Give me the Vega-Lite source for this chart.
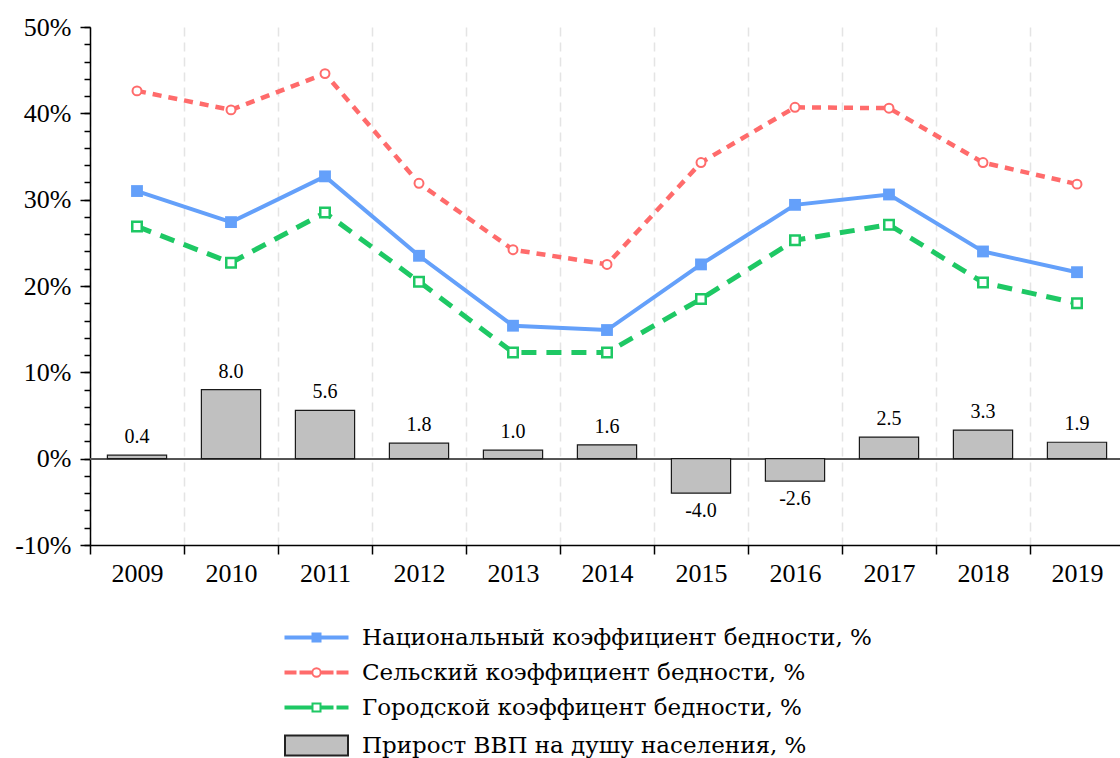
{
  "$schema": "https://vega.github.io/schema/vega-lite/v6.json",
  "autosize": "none",
  "width": 1030,
  "height": 518,
  "padding": {"left": 90, "top": 27, "right": 0, "bottom": 213},
  "config": {
    "view": {"stroke": null},
    "font": "Liberation Serif",
    "axis": {"labelFont": "Liberation Serif"},
    "locale": {"number": {"decimal": ".", "thousands": ",", "grouping": [3], "currency": ["$", ""], "minus": "-"}}
  },
  "datasets": {
    "main": [
      {"year": "2009", "series": "Национальный коэффициент бедности, %", "value": 31.0},
      {"year": "2010", "series": "Национальный коэффициент бедности, %", "value": 27.4},
      {"year": "2011", "series": "Национальный коэффициент бедности, %", "value": 32.7},
      {"year": "2012", "series": "Национальный коэффициент бедности, %", "value": 23.5},
      {"year": "2013", "series": "Национальный коэффициент бедности, %", "value": 15.4},
      {"year": "2014", "series": "Национальный коэффициент бедности, %", "value": 14.9},
      {"year": "2015", "series": "Национальный коэффициент бедности, %", "value": 22.5},
      {"year": "2016", "series": "Национальный коэффициент бедности, %", "value": 29.4},
      {"year": "2017", "series": "Национальный коэффициент бедности, %", "value": 30.6},
      {"year": "2018", "series": "Национальный коэффициент бедности, %", "value": 24.0},
      {"year": "2019", "series": "Национальный коэффициент бедности, %", "value": 21.6},
      {"year": "2009", "series": "Сельский коэффициент бедности, %", "value": 42.6},
      {"year": "2010", "series": "Сельский коэффициент бедности, %", "value": 40.4},
      {"year": "2011", "series": "Сельский коэффициент бедности, %", "value": 44.6},
      {"year": "2012", "series": "Сельский коэффициент бедности, %", "value": 31.9},
      {"year": "2013", "series": "Сельский коэффициент бедности, %", "value": 24.2},
      {"year": "2014", "series": "Сельский коэффициент бедности, %", "value": 22.5},
      {"year": "2015", "series": "Сельский коэффициент бедности, %", "value": 34.3},
      {"year": "2016", "series": "Сельский коэффициент бедности, %", "value": 40.7},
      {"year": "2017", "series": "Сельский коэффициент бедности, %", "value": 40.6},
      {"year": "2018", "series": "Сельский коэффициент бедности, %", "value": 34.3},
      {"year": "2019", "series": "Сельский коэффициент бедности, %", "value": 31.8},
      {"year": "2009", "series": "Городской коэффицент бедности, %", "value": 26.9},
      {"year": "2010", "series": "Городской коэффицент бедности, %", "value": 22.7},
      {"year": "2011", "series": "Городской коэффицент бедности, %", "value": 28.5},
      {"year": "2012", "series": "Городской коэффицент бедности, %", "value": 20.5},
      {"year": "2013", "series": "Городской коэффицент бедности, %", "value": 12.3},
      {"year": "2014", "series": "Городской коэффицент бедности, %", "value": 12.3},
      {"year": "2015", "series": "Городской коэффицент бедности, %", "value": 18.5},
      {"year": "2016", "series": "Городской коэффицент бедности, %", "value": 25.3},
      {"year": "2017", "series": "Городской коэффицент бедности, %", "value": 27.1},
      {"year": "2018", "series": "Городской коэффицент бедности, %", "value": 20.4},
      {"year": "2019", "series": "Городской коэффицент бедности, %", "value": 18.0},
      {"year": "2009", "series": "Прирост ВВП на душу населения, %", "value": 0.4},
      {"year": "2010", "series": "Прирост ВВП на душу населения, %", "value": 8.0},
      {"year": "2011", "series": "Прирост ВВП на душу населения, %", "value": 5.6},
      {"year": "2012", "series": "Прирост ВВП на душу населения, %", "value": 1.8},
      {"year": "2013", "series": "Прирост ВВП на душу населения, %", "value": 1.0},
      {"year": "2014", "series": "Прирост ВВП на душу населения, %", "value": 1.6},
      {"year": "2015", "series": "Прирост ВВП на душу населения, %", "value": -4.0},
      {"year": "2016", "series": "Прирост ВВП на душу населения, %", "value": -2.6},
      {"year": "2017", "series": "Прирост ВВП на душу населения, %", "value": 2.5},
      {"year": "2018", "series": "Прирост ВВП на душу населения, %", "value": 3.3},
      {"year": "2019", "series": "Прирост ВВП на душу населения, %", "value": 1.9}
    ]
  },
  "data": {"name": "main"},
  "resolve": {"axis": {"y": "independent"}},
  "encoding": {
    "x": {
      "field": "year", "type": "ordinal",
      "scale": {"type": "band", "paddingInner": 0, "paddingOuter": 0, "range": [0, 1034]},
      "axis": {
        "orient": "bottom", "title": null, "labelAngle": 0, "tickBand": "extent",
        "grid": true, "gridDash": [9, 6], "gridColor": "#e4e4e4", "gridWidth": 1.5,
        "domainColor": "#000000", "domainWidth": 1.5, "tickColor": "#000000", "tickWidth": 1.5, "tickSize": 9,
        "labelFont": "Liberation Serif", "labelFontSize": 26, "labelColor": "#000000", "labelPadding": 6
      }
    }
  },
  "layer": [
    {
      "mark": {"type": "rule", "color": "#555555", "strokeWidth": 1.5},
      "encoding": {
        "x": {"value": 0},
        "x2": {"value": 1034},
        "y": {
          "datum": 0, "type": "quantitative",
          "scale": {"domain": [-10, 50], "nice": false, "zero": false},
          "axis": {
            "orient": "left", "title": null, "labels": false, "domain": false, "grid": false,
            "values": [-10, -8, -6, -4, -2, 0, 2, 4, 6, 8, 10, 12, 14, 16, 18, 20, 22, 24, 26, 28, 30, 32, 34, 36, 38, 40, 42, 44, 46, 48, 50],
            "tickSize": 6, "tickColor": "#000000", "tickWidth": 1.5
          }
        }
      }
    },
    {
      "transform": [{"filter": "datum.series === 'Прирост ВВП на душу населения, %'"}],
      "mark": {"type": "bar", "fill": "#c0c0c0", "stroke": "#1a1a1a", "strokeWidth": 1.2, "width": {"band": 0.63}},
      "encoding": {
        "y": {
          "field": "value", "type": "quantitative",
          "scale": {"domain": [-10, 50], "nice": false, "zero": false},
          "axis": {
            "orient": "left", "title": null, "grid": false,
            "values": [-10, 0, 10, 20, 30, 40, 50],
            "labelExpr": "datum.value + '%'",
            "domainColor": "#000000", "domainWidth": 1.5, "tickColor": "#000000", "tickWidth": 1.5, "tickSize": 10,
            "labelFont": "Liberation Serif", "labelFontSize": 26, "labelColor": "#000000", "labelPadding": 9
          }
        }
      }
    },
    {
      "transform": [{"filter": "datum.series === 'Прирост ВВП на душу населения, %' && datum.value > 0"}],
      "mark": {"type": "text", "baseline": "bottom", "dy": -8, "fontSize": 20, "font": "Liberation Serif", "color": "#000000"},
      "encoding": {
        "y": {"field": "value", "type": "quantitative", "axis": null},
        "text": {"field": "value", "type": "quantitative", "format": ".1f"}
      }
    },
    {
      "transform": [{"filter": "datum.series === 'Прирост ВВП на душу населения, %' && datum.value < 0"}],
      "mark": {"type": "text", "baseline": "top", "dy": 8, "fontSize": 20, "font": "Liberation Serif", "color": "#000000"},
      "encoding": {
        "y": {"field": "value", "type": "quantitative", "axis": null},
        "text": {"field": "value", "type": "quantitative", "format": ".1f"}
      }
    },
    {
      "transform": [{"filter": "datum.series === 'Сельский коэффициент бедности, %'"}],
      "mark": {"type": "line", "color": "#ff6b6b", "strokeWidth": 4.5, "strokeDash": [9, 7],
        "point": {"shape": "circle", "filled": true, "fill": "#ffffff", "stroke": "#ff6b6b", "strokeWidth": 2, "size": 80}},
      "encoding": {"y": {"field": "value", "type": "quantitative", "axis": null}}
    },
    {
      "transform": [{"filter": "datum.series === 'Национальный коэффициент бедности, %'"}],
      "mark": {"type": "line", "color": "#64a0fa", "strokeWidth": 4,
        "point": {"shape": "square", "filled": true, "fill": "#64a0fa", "size": 140}},
      "encoding": {"y": {"field": "value", "type": "quantitative", "axis": null}}
    },
    {
      "transform": [{"filter": "datum.series === 'Городской коэффицент бедности, %'"}],
      "mark": {"type": "line", "color": "#1ec864", "strokeWidth": 5, "strokeDash": [15, 10],
        "point": {"shape": "square", "filled": true, "fill": "#ffffff", "stroke": "#1ec864", "strokeWidth": 2.5, "size": 90}},
      "encoding": {"y": {"field": "value", "type": "quantitative", "axis": null}}
    },
    {
      "data": {"values": []},
      "mark": {"type": "point", "strokeWidth": 2},
      "encoding": {
        "x": null,
        "shape": {
          "field": "series", "type": "nominal",
          "scale": {
            "domain": ["Национальный коэффициент бедности, %", "Сельский коэффициент бедности, %", "Городской коэффицент бедности, %", "Прирост ВВП на душу населения, %"],
            "range": [
              "M-3.1,-0.1H3.1V0.1H-3.1Z M-0.4,-0.4H0.4V0.4H-0.4Z",
              "M-3.1,-0.1H-2.1V0.1H-3.1Z M-1.6,-0.1H-0.6V0.1H-1.6Z M0.42,0A0.42,0.42 0 1,1 -0.42,0A0.42,0.42 0 1,1 0.42,0Z M0.6,-0.1H1.6V0.1H0.6Z M2.1,-0.1H3.1V0.1H2.1Z",
              "M-3.1,-0.1H-0.6V0.1H-3.1Z M-0.4,-0.4H0.4V0.4H-0.4Z M0.6,-0.1H1.6V0.1H0.6Z M2.1,-0.1H3.1V0.1H2.1Z",
              "M-3.15,-1.0H3.15V1.0H-3.15Z"
            ]
          },
          "legend": {
            "title": null, "orient": "none", "legendX": 215, "legendY": 599, "direction": "vertical",
            "symbolSize": 400, "symbolStrokeWidth": 2, "symbolOpacity": 1,
            "labelFont": "DejaVu Serif", "labelFontSize": 23, "labelColor": "#000000", "labelOffset": 34,
            "rowPadding": 11, "labelLimit": 800
          }
        },
        "fill": {
          "field": "series", "type": "nominal",
          "scale": {
            "domain": ["Национальный коэффициент бедности, %", "Сельский коэффициент бедности, %", "Городской коэффицент бедности, %", "Прирост ВВП на душу населения, %"],
            "range": ["#64a0fa", "#ffffff", "#ffffff", "#c0c0c0"]
          }
        },
        "stroke": {
          "field": "series", "type": "nominal",
          "scale": {
            "domain": ["Национальный коэффициент бедности, %", "Сельский коэффициент бедности, %", "Городской коэффицент бедности, %", "Прирост ВВП на душу населения, %"],
            "range": ["#64a0fa", "#ff6b6b", "#1ec864", "#222222"]
          }
        }
      }
    }
  ]
}
